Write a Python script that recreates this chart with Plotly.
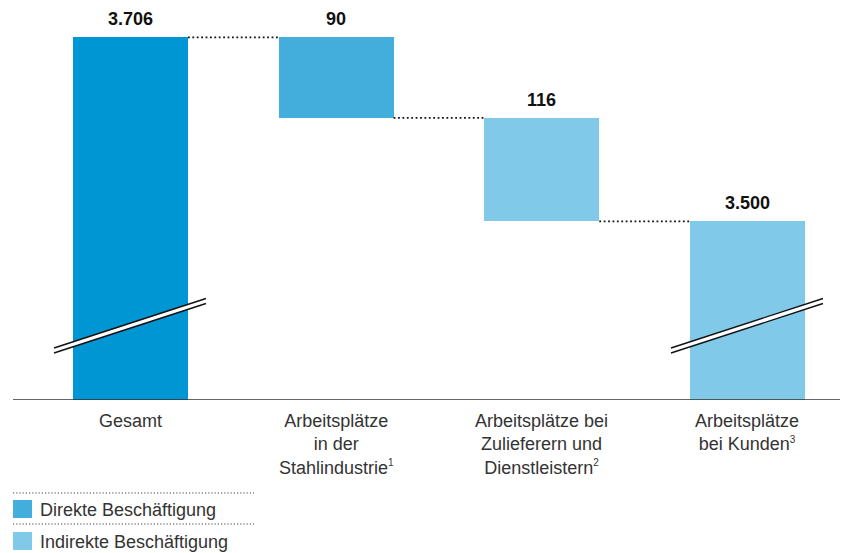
import plotly.graph_objects as go

# ---------------- data ----------------
SUP = "<sup><span style='font-size:10px'>{}</span></sup>"
categories = [
    "Gesamt",
    "Arbeitsplätze<br>in der<br>Stahlindustrie" + SUP.format("1"),
    "Arbeitsplätze bei<br>Zulieferern und<br>Dienstleistern" + SUP.format("2"),
    "Arbeitsplätze<br>bei Kunden" + SUP.format("3"),
]
values = [3706, 90, 116, 3500]
measures = ["total", "step", "step", "total"]
value_labels = ["3.706", "90", "116", "3.500"]
bar_colors = ["#0095d3", "#43aedc", "#80c9e8", "#80c9e8"]
broken_bars = [0, 3]
legend_labels = ["Direkte Beschäftigung", "Indirekte Beschäftigung"]
legend_colors = ["#43aedc", "#80c9e8"]

# ---------------- layout constants ----------------
OFF = 8  # page body margin of the browser
W, H = 848 - OFF, 553 - OFF
ML, MR, MT = 13 - OFF, 0, 0
PLOT_H = 400 - OFF  # plot area bottom at screen y=400
MB = H - MT - PLOT_H
Y_RANGE = [3300, 3739]
X_RANGE = [-0.5713, 3.4887]
BAR_W = 0.559
FONT = "Helvetica Neue, Liberation Sans, Arial, sans-serif"

def yp(py):  # screen pixel -> paper y
    return (PLOT_H - (py - OFF - MT)) / PLOT_H

def xp(px):  # screen pixel -> paper x
    return (px - OFF - ML) / (W - ML - MR)

# waterfall bases
bases, heights, ends = [], [], []
level = 0
for v, m in zip(values, measures):
    if m == "total":
        bases.append(0)
        heights.append(v)
        level = v
    else:
        bases.append(level - v)
        heights.append(v)
        level = level - v
    ends.append(level)
tops = [b + h for b, h in zip(bases, heights)]
xs = list(range(len(values)))

fig = go.Figure()
fig.add_trace(go.Bar(
    x=xs, y=heights, base=bases, width=BAR_W,
    marker=dict(color=bar_colors, line=dict(width=0)),
    hoverinfo="skip", showlegend=False,
))

shapes = []
annotations = []

# connectors
for i in range(len(values) - 1):
    shapes.append(dict(
        type="line", xref="x", yref="y",
        x0=xs[i] + BAR_W / 2, x1=xs[i + 1] - BAR_W / 2,
        y0=ends[i], y1=ends[i],
        line=dict(color="#111111", width=1.8, dash="1.8px,2.6px"),
    ))

# break marks
dx_l, dx_r = 76.5 / 205.67, 75.5 / 205.67
yl, yr = yp(350.5), yp(301)
off = 2.5 / PLOT_H
for i in broken_bars:
    x0, x1 = xs[i] - dx_l, xs[i] + dx_r
    shapes.append(dict(
        type="path", xref="x", yref="paper",
        path=f"M {x0},{yl + off} L {x1},{yr + off} L {x1},{yr - off} L {x0},{yl - off} Z",
        fillcolor="white", line=dict(width=0),
    ))
    for s in (off, -off):
        shapes.append(dict(
            type="line", xref="x", yref="paper",
            x0=x0, x1=x1, y0=yl + s, y1=yr + s,
            line=dict(color="#111111", width=1.4),
        ))

# baseline
shapes.append(dict(
    type="line", xref="paper", yref="y", x0=0, x1=1, y0=Y_RANGE[0], y1=Y_RANGE[0],
    line=dict(color="#333333", width=1.5),
))

# value labels
for i, t in enumerate(value_labels):
    annotations.append(dict(
        x=xs[i], y=tops[i], xref="x", yref="y", text=f"<b>{t}</b>",
        showarrow=False, yanchor="bottom", yshift=6,
        font=dict(family=FONT, size=18, color="#111111"),
    ))

# category labels
for i, c in enumerate(categories):
    annotations.append(dict(
        x=xs[i], y=0, xref="x", yref="paper", text=c,
        showarrow=False, yanchor="top", yshift=-9, align="center",
        font=dict(family=FONT, size=18, color="#333333"),
    ))

# custom legend
leg_line_py = [493, 524]
leg_sw_py = [500, 532]
for k, (lab, col) in enumerate(zip(legend_labels, legend_colors)):
    shapes.append(dict(
        type="line", xref="paper", yref="paper",
        x0=xp(13), x1=xp(254), y0=yp(leg_line_py[k]), y1=yp(leg_line_py[k]),
        line=dict(color="#444444", width=1.2, dash="1.2px,2px"),
    ))
    shapes.append(dict(
        type="rect", xref="paper", yref="paper",
        x0=xp(13), x1=xp(32), y0=yp(leg_sw_py[k]), y1=yp(leg_sw_py[k] + 18),
        fillcolor=col, line=dict(width=0),
    ))
    annotations.append(dict(
        x=xp(38), y=yp(leg_sw_py[k] + 9.5), xref="paper", yref="paper",
        text=lab, showarrow=False, xanchor="left", yanchor="middle",
        font=dict(family=FONT, size=18, color="#333333"),
    ))

fig.update_layout(
    width=W, height=H,
    margin=dict(l=ML, r=MR, t=MT, b=MB, pad=0),
    paper_bgcolor="white", plot_bgcolor="white",
    xaxis=dict(range=X_RANGE, showticklabels=False, showgrid=False, zeroline=False, showline=False, fixedrange=True),
    yaxis=dict(range=Y_RANGE, showticklabels=False, showgrid=False, zeroline=False, showline=False, fixedrange=True),
    shapes=shapes, annotations=annotations,
    showlegend=False, bargap=0,
)

fig.write_html("out.html", config={"displayModeBar": False})
